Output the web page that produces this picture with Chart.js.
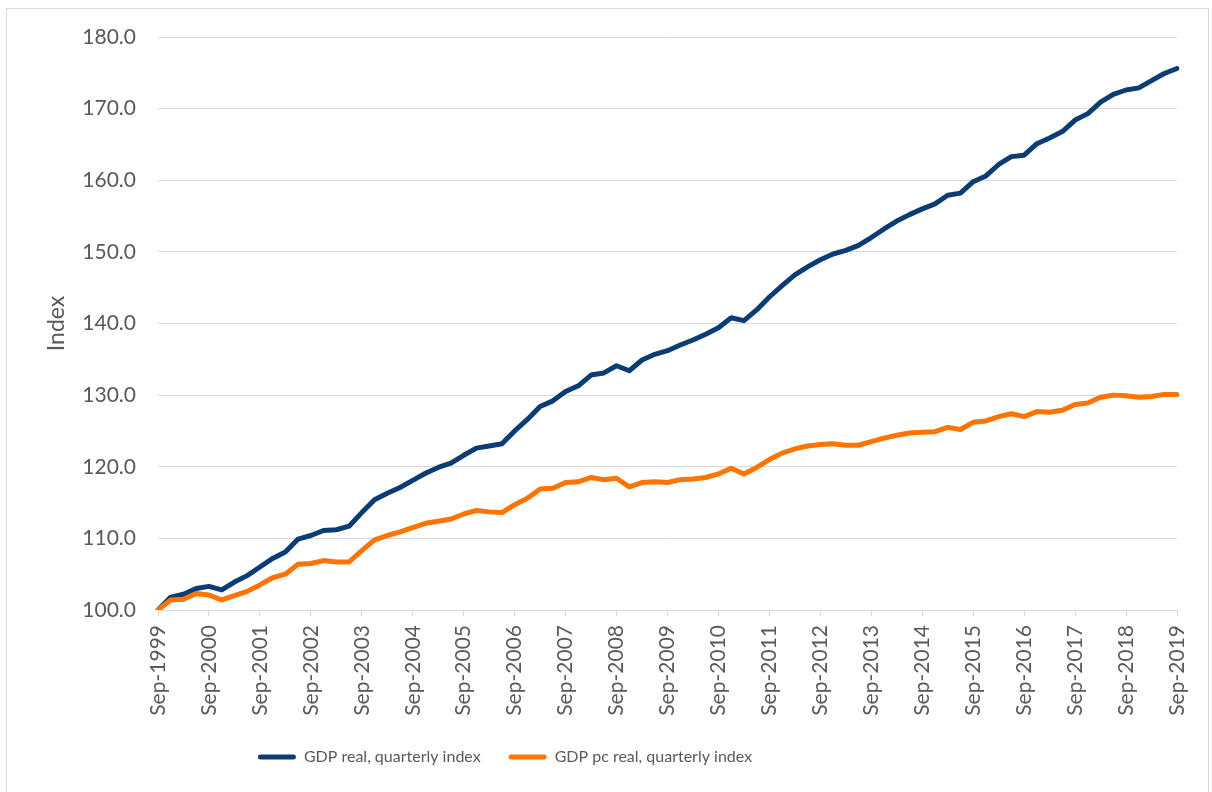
<!DOCTYPE html>
<html>
<head>
<meta charset="utf-8">
<script src="https://cdn.jsdelivr.net/npm/chart.js@4.4.1/dist/chart.umd.min.js"></script>
<style>
  body { margin: 0; background: #fff; }
  #frame { position: absolute; left: 6px; top: 8px; width: 1201px; height: 800px; border: 1px solid #d9d9d9; }
  #chart { position: absolute; left: 0; top: 0; }
</style>
</head>
<body>
<div id="frame"></div>
<canvas id="chart" width="1212" height="792"></canvas>
<script>
// quarters from Sep-1999 to Sep-2019
const quarterMonths = ["Sep", "Dec", "Mar", "Jun"];
const quarterLabels = [];
for (let i = 0; i <= 80; i++) {
  const m = quarterMonths[i % 4];
  const y = m === "Sep" || m === "Dec" ? 1999 + Math.floor(i / 4) : 2000 + Math.floor(i / 4);
  quarterLabels.push(m + "-" + y);
}

const gdpReal = [
  100.0, 101.8, 102.2, 103.0, 103.3, 102.8, 103.9, 104.8, 106.0, 107.2,
  108.1, 109.9, 110.4, 111.1, 111.2, 111.7, 113.6, 115.4, 116.3, 117.1,
  118.1, 119.1, 119.9, 120.5, 121.6, 122.6, 122.9, 123.2, 125.0, 126.6,
  128.4, 129.2, 130.5, 131.3, 132.8, 133.1, 134.1, 133.4, 134.9, 135.7,
  136.2, 137.0, 137.7, 138.5, 139.4, 140.8, 140.4, 141.9, 143.7, 145.3,
  146.8, 147.9, 148.9, 149.7, 150.2, 150.9, 152.0, 153.2, 154.3, 155.2,
  156.0, 156.7, 157.9, 158.2, 159.8, 160.6, 162.2, 163.3, 163.5, 165.1,
  165.9, 166.8, 168.4, 169.3, 170.9, 172.0, 172.6, 172.9, 173.9, 174.9,
  175.6
];

const gdpPcReal = [
  100.0, 101.4, 101.5, 102.3, 102.1, 101.4, 102.0, 102.6, 103.5, 104.5,
  105.0, 106.4, 106.5, 106.9, 106.7, 106.7, 108.3, 109.8, 110.4, 110.9,
  111.5, 112.1, 112.4, 112.7, 113.4, 113.9, 113.7, 113.6, 114.7, 115.6,
  116.9, 117.0, 117.8, 117.9, 118.5, 118.2, 118.4, 117.2, 117.8, 117.9,
  117.8, 118.2, 118.3, 118.5, 119.0, 119.8, 119.0, 119.9, 121.0, 121.9,
  122.5, 122.9, 123.1, 123.2, 123.0, 123.0, 123.5, 124.0, 124.4, 124.7,
  124.8, 124.9, 125.5, 125.2, 126.2, 126.4, 127.0, 127.4, 127.0, 127.7,
  127.6, 127.9, 128.7, 128.9, 129.7, 130.0, 129.9, 129.7, 129.8, 130.1,
  130.1
];

const seriesNames = ["GDP real, quarterly index", "GDP pc real, quarterly index"];
const blue = "#0b3d74";
const orange = "#ff7300";
const grey = "#595959";
const gridGrey = "#d9d9d9";

// move the legend so it sits left of centre like the original
const legendShift = {
  id: "legendShift",
  afterLayout(chart) {
    const lg = chart.legend;
    lg.left = 0;
    lg.right = 1010;
    lg.width = 1010;
  }
};

new Chart(document.getElementById("chart"), {
  type: "line",
  data: {
    labels: quarterLabels,
    datasets: [
      {
        label: seriesNames[0],
        data: gdpReal,
        borderColor: blue,
        backgroundColor: blue,
        borderWidth: 5,
        pointRadius: 0,
        borderCapStyle: "round",
        borderJoinStyle: "round",
        tension: 0,
        order: 1,
      },
      {
        label: seriesNames[1],
        data: gdpPcReal,
        borderColor: orange,
        backgroundColor: orange,
        borderWidth: 5,
        pointRadius: 0,
        borderCapStyle: "round",
        borderJoinStyle: "round",
        tension: 0,
        order: 0,
      },
    ],
  },
  options: {
    responsive: false,
    animation: false,
    layout: { padding: { left: 0, right: 35, top: 37, bottom: 17 } },
    plugins: {
      tooltip: { enabled: false },
      legend: {
        position: "bottom",
        labels: {
          boxWidth: 38,
          boxHeight: 5,
          padding: 28,
          color: grey,
          font: { family: "Lato", size: 16 },
          useBorderRadius: true,
          borderRadius: 2.5,
          sort: (a, b) => a.datasetIndex - b.datasetIndex,
          generateLabels: (chart) =>
            Chart.defaults.plugins.legend.labels
              .generateLabels(chart)
              .map((l) => ({ ...l, lineWidth: 0 })),
        },
      },
    },
    scales: {
      x: {
        offset: false,
        afterFit: (scale) => { scale.height = 111; },
        grid: {
          drawOnChartArea: false,
          drawTicks: true,
          tickLength: 6,
          color: (ctx) => (ctx.index % 4 === 0 ? gridGrey : "rgba(0,0,0,0)"),
        },
        border: { display: true, color: gridGrey, width: 1 },
        ticks: {
          autoSkip: false,
          maxRotation: 90,
          minRotation: 90,
          padding: 9,
          color: grey,
          font: { family: "Lato", size: 21 },
          callback: (v, i) => (i % 4 === 0 ? quarterLabels[i] : ""),
        },
      },
      y: {
        min: 100,
        max: 180,
        afterFit: (scale) => { scale.width = 158; },
        grid: { color: gridGrey, lineWidth: 1, drawTicks: false },
        border: { display: false },
        ticks: {
          stepSize: 10,
          padding: 22,
          color: grey,
          font: { family: "Lato", size: 21 },
          callback: (v) => v.toFixed(1),
        },
        title: {
          display: true,
          text: "Index",
          color: grey,
          font: { family: "Lato", size: 23 },
          padding: { top: 43, bottom: 0 },
        },
      },
    },
  },
  plugins: [legendShift],
});
</script>
</body>
</html>
